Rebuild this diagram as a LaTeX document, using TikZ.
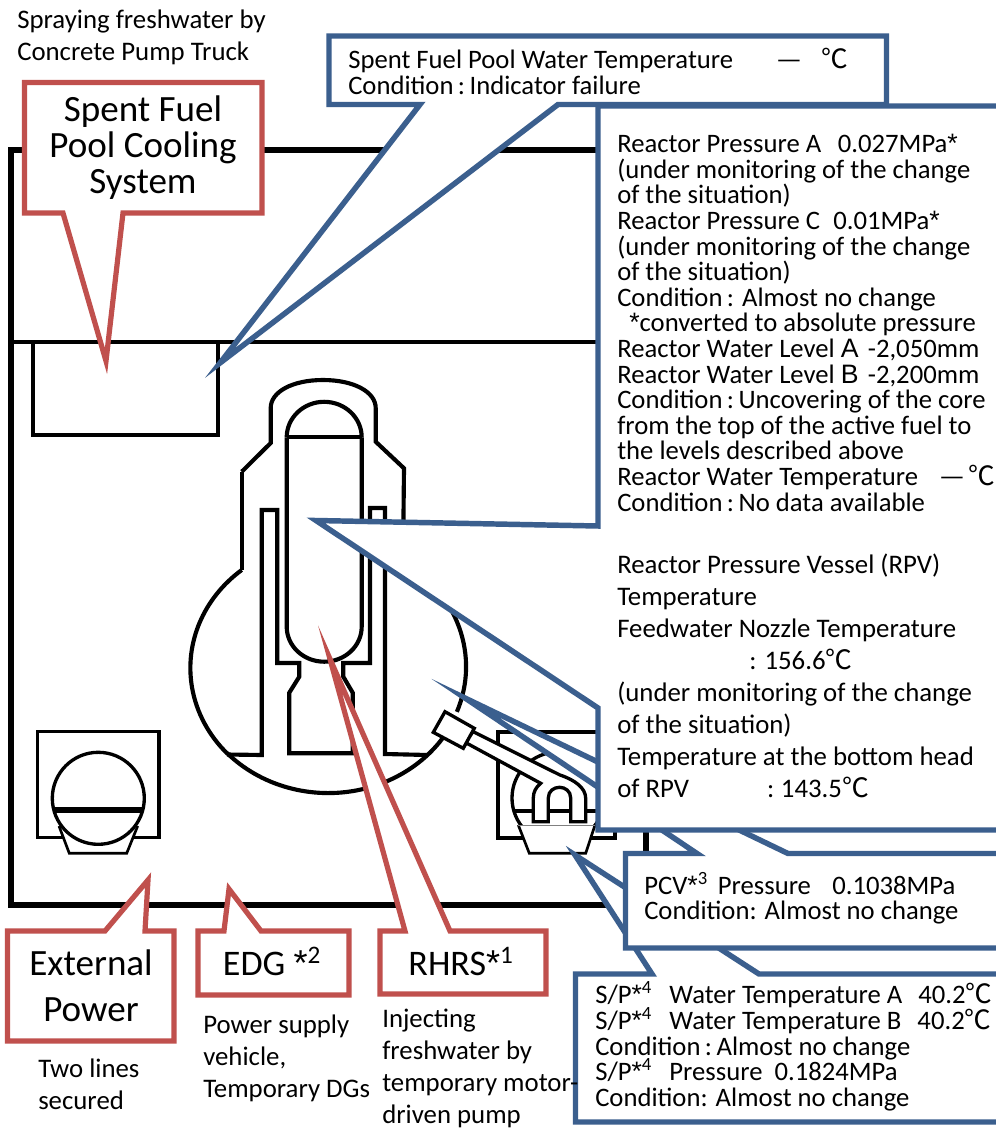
\documentclass[tikz,border=0pt]{standalone}
\usepackage{fontspec}
\setmainfont{Carlito}
\newfontfamily\cjkf{Noto Sans CJK JP}
\newfontfamily\libf{Liberation Sans}
\newcommand\dgc{{\cjkf ℃}}
\newcommand\dsh{{\cjkf —}}
\newcommand\sqA{{\libf A}}
\newcommand\sqB{{\libf B}}
\newcommand\stx{{\libf *}}
\newcommand\cnd{Condition\,:\,}
\newcommand\frstline{\rule{0pt}{18pt}}
\newcommand\frbigline{\rule{0pt}{26pt}}
\AtBeginDocument{\lineskiplimit=-100pt\relax\normallineskiplimit=-100pt\relax}
\definecolor{cblue}{HTML}{3B5F8E}
\definecolor{cred}{HTML}{C0504D}
\tikzset{
  x=0.75pt,y=-0.75pt,
  wallthick/.style={draw=black,line width=4.5pt,line join=miter},
  wallmid/.style={draw=black,line width=3.1pt,line join=miter},
  wallthin/.style={draw=black,line width=2.5pt,line join=miter},
  bluecall/.style={draw=cblue,fill=white,line width=4.1pt,line join=miter,miter limit=60},
  redcall/.style={draw=cred,fill=white,line width=3.9pt,line join=miter,miter limit=60},
  bodytxt/.style={anchor=north west,inner sep=0pt,align=left,font=\fontsize{20}{19.2}\selectfont},
  looseleft/.style={anchor=north west,inner sep=0pt,align=left,font=\fontsize{20.1}{24}\selectfont},
  bigtxt/.style={anchor=north,inner sep=0pt,align=center,font=\fontsize{27.8}{27}\selectfont},
  smalltag/.style={anchor=north,inner sep=0pt,align=center,font=\fontsize{27}{27}\selectfont},
  exttxt/.style={anchor=north,inner sep=0pt,align=center,font=\fontsize{27.8}{33.8}\selectfont},
}
\begin{document}
\begin{tikzpicture}
\clip (0,0) rectangle (996,1129);
\useasboundingbox (0,0) rectangle (996,1129);
\fill[white] (0,0) rectangle (996,1129);
% building
\draw[wallthick] (646,149.5) -- (11,149.5) -- (11,905) -- (646,905) -- cycle;
\draw[wallmid] (11,342) -- (598,342);
\draw[wallmid] (33,342) -- (33,435) -- (218,435) -- (218,342);
% containment
\draw[wallmid] (241.7,471.7) -- (270.7,443) -- (270.7,408)
  .. controls (270.7,392) and (292,380) .. (323,380)
  .. controls (354,380) and (375.7,392) .. (375.7,408)
  -- (375.7,441.7) -- (404,468.3) -- (403,561);
\draw[wallmid] (241.7,471.7) -- (241.7,570);
\draw[wallmid] (241.7,570) arc[start angle=231,end angle=137,x radius=138.5,y radius=126];
\draw[wallmid] (403,561) arc[start angle=-57,end angle=21,x radius=138.5,y radius=126];
\draw[wallmid] (227,753) arc[start angle=137,end angle=32,x radius=138.5,y radius=126];
% pedestal
\draw[wallmid] (227,754.5) -- (261.7,755) -- (261.7,510) -- (277.3,510) -- (277.3,663)
  -- (299.3,663) -- (299.3,676.7) -- (289.3,692.7) -- (289.3,753.3) -- (352.7,753.3)
  -- (352.7,692.7) -- (343.3,676.7) -- (343.3,663) -- (370,663) -- (370,508) -- (385,508)
  -- (385,754) -- (428,755);
% vessel
\draw[wallmid] (286.7,437.3) -- (361.7,437.3);
\draw[wallmid] (286.7,437.3) arc[start angle=180,end angle=360,x radius=37.5,y radius=35.5];
\draw[wallmid] (286.7,437.3) -- (286.7,626.7) arc[start angle=180,end angle=0,x radius=37.5,y radius=35] -- (361.7,437.3);
% left pump
\draw[wallthin] (37.3,731.7) rectangle (159,837.7);
\path[fill=white] (59,826) -- (69.3,853.3) -- (126.7,853.3) -- (137.7,826) -- cycle;
\draw[draw=black,line width=2pt] (59,826) -- (69.3,853.3) -- (126.7,853.3) -- (137.7,826);
\draw[wallthin] (98.3,798.3) circle[radius=46];
\draw[draw=black,line width=3.8pt] (54,810) -- (143,810);
% right pump
\draw[wallmid] (615,800) -- (615,838.3) -- (497.7,838.3) -- (497.7,731.7) -- (615,731.7);
\draw[wallthin] (558,798) circle[radius=46];
\draw[wallmid] (515,810.7) -- (600,810.7);
\path[fill=white] (518.3,825) -- (529.3,853.3) -- (585.7,853.3) -- (595,825) -- cycle;
\draw[draw=black,line width=2pt] (518.3,825) -- (529.3,853.3) -- (585.7,853.3) -- (595,825);
\draw[draw=gray,line width=1pt] (518.3,825.5) -- (595,825.5);
% pipe
\draw[wallthin,fill=white] (473.3,731.7) -- (560,775)
  .. controls (575,780) and (585.7,788) .. (585.7,798.3)
  -- (585.7,821.7) -- (570.7,821.7) -- (570.7,798)
  .. controls (570.7,791) and (565,787.3) .. (559.5,787.3)
  .. controls (554,787.3) and (548.3,791) .. (548.3,798)
  -- (548.3,821.7) -- (533.3,821.7) -- (533.3,798)
  .. controls (533.3,792) and (536,787) .. (540.7,783.3)
  -- (464,741.7) -- cycle;
\draw[wallthin,fill=white] (445,711.7) -- (474.3,728.3) -- (463.3,748.3) -- (433.3,732.3) -- cycle;
% blue callouts
\draw[bluecall] (329,36) -- (886.5,36) -- (886.5,104.5) -- (558,104.5) -- (220,363) -- (420,104.5) -- (329,104.5) -- cycle;
\draw[bluecall] (1010,974) -- (759,974) -- (575,855) -- (652,974) -- (575.5,974) -- (575.5,1122) -- (1010,1122);
\draw[bluecall] (1010,853.5) -- (788,853.5) -- (465,698) -- (697,853.5) -- (625.5,853.5) -- (625.5,948) -- (1010,948);
\draw[bluecall] (1010,106) -- (598,106) -- (598,526) -- (316,520.5) -- (598,708) -- (598,830) -- (1010,830);
% red callouts
\draw[redcall] (24.5,82.5) -- (262,82.5) -- (262,213) -- (123,213) -- (106,361) -- (63,213) -- (24.5,213) -- cycle;
\draw[redcall] (7.5,931) -- (105,931) -- (148,880) -- (145,931) -- (174,931) -- (174,1041) -- (7.5,1041) -- cycle;
\draw[redcall] (198,931) -- (224,931) -- (229,889) -- (261,931) -- (349,931) -- (349,995) -- (198,995) -- cycle;
\draw[redcall] (380,931) -- (405,931) -- (330,659) -- (450,931) -- (546,931) -- (546,994) -- (380,994) -- cycle;
% texts
\node[looseleft] (spray) at (17,4.2) {\frstline Spraying freshwater by\\Concrete Pump Truck};
\node[bigtxt] (sfpc) at (143,86.3) {\frbigline Spent Fuel\\Pool Cooling\\System};
\node[bodytxt] (sfptxt) at (348,44.7) {\frstline Spent Fuel Pool Water Temperature\hspace{33pt}\dsh\hspace{15pt}\dgc\\\cnd Indicator failure};
\node[bodytxt] (rxtxt) at (617,128.5) {\frstline Reactor Pressure A\hspace{12.5pt}0.027MPa\stx\\
(under monitoring of the change\\
of the situation)\\
Reactor Pressure C\hspace{10pt}0.01MPa\stx\\
(under monitoring of the change\\
of the situation)\\
Condition\,:\hspace{6pt}Almost no change\\
\hspace*{9pt}\stx converted to absolute pressure\\
Reactor Water Level \sqA\hspace{7pt}-2,050mm\\
Reactor Water Level \sqB\hspace{7pt}-2,200mm\\
\cnd Uncovering of the core\\
from the top of the active fuel to\\
the levels described above\\
Reactor Water Temperature\hspace{17pt}\dsh\hspace{3pt}\dgc\\
\cnd No data available};
\node[looseleft] (rpvtxt) at (617,549) {\frstline Reactor Pressure Vessel (RPV)\\
Temperature\\
Feedwater Nozzle Temperature\\
\hspace*{99pt}: 156.6\dgc\\
(under monitoring of the change\\
of the situation)\\
Temperature at the bottom head\\
of RPV\hspace{58.5pt}:\hspace{5pt}143.5\dgc};
\node[bodytxt] (pcvtxt) at (644,870) {\frstline PCV\stx\textsuperscript{3}\hspace{7.5pt}Pressure\hspace{16pt}0.1038MPa\\Condition: Almost no change};
\node[bodytxt] (sptxt) at (595,979.7) {\frstline S/P\stx\textsuperscript{4}\hspace{13pt}Water Temperature A\hspace{12pt}40.2\dgc\\
S/P\stx\textsuperscript{4}\hspace{13pt}Water Temperature B\hspace{12pt}40.2\dgc\\
\cnd Almost no change\\
S/P\stx\textsuperscript{4}\hspace{13pt}Pressure\hspace{9pt}0.1824MPa\\
Condition: Almost no change};
\node[exttxt] (extpw) at (91,941) {\frbigline External\\Power};
\node[smalltag] (edg) at (272,940.3) {\frbigline EDG \stx\textsuperscript{2}};
\node[smalltag] (rhrs) at (461,940.3) {\frbigline RHRS\stx\textsuperscript{1}};
\node[looseleft] (twol) at (38,1053.5) {\frstline Two lines\\secured};
\node[looseleft] (psv) at (203,1009.5) {\frstline Power supply\\vehicle,\\Temporary DGs};
\node[looseleft] (inj) at (382,1003) {\frstline Injecting\\freshwater by\\temporary motor-\\driven pump};
\end{tikzpicture}
\end{document}
